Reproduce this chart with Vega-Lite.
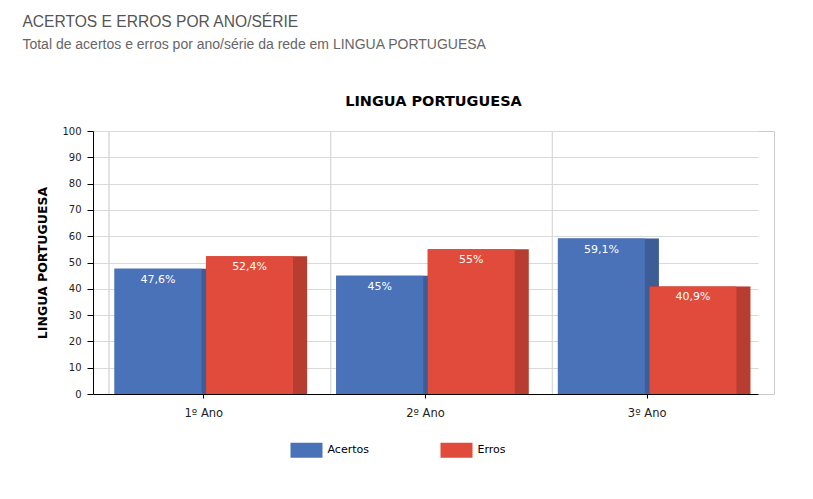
{
  "$schema": "https://vega.github.io/schema/vega-lite/v6.json",
  "background": "#ffffff",
  "padding": {"left": 22, "top": 15, "right": 0, "bottom": 0},
  "title": {
    "text": "ACERTOS E ERROS POR ANO/SÉRIE",
    "subtitle": "Total de acertos e erros por ano/série da rede em LINGUA PORTUGUESA",
    "anchor": "start",
    "frame": "bounds",
    "font": "Liberation Sans",
    "fontSize": 15.6,
    "fontWeight": "normal",
    "color": "#555555",
    "subtitleFont": "Liberation Sans",
    "subtitleFontSize": 14,
    "subtitleColor": "#666666",
    "subtitlePadding": 7,
    "offset": 41,
    "dx": -14
  },
  "datasets": {
    "notas": [
      {"ano": "1º Ano", "serie": "Acertos", "valor": 47.6, "rotulo": "47,6%"},
      {"ano": "1º Ano", "serie": "Erros", "valor": 52.4, "rotulo": "52,4%"},
      {"ano": "2º Ano", "serie": "Acertos", "valor": 45, "rotulo": "45%"},
      {"ano": "2º Ano", "serie": "Erros", "valor": 55, "rotulo": "55%"},
      {"ano": "3º Ano", "serie": "Acertos", "valor": 59.1, "rotulo": "59,1%"},
      {"ano": "3º Ano", "serie": "Erros", "valor": 40.9, "rotulo": "40,9%"}
    ]
  },
  "vconcat": [
    {
      "title": {
        "text": "LINGUA PORTUGUESA",
        "anchor": "middle",
        "frame": "group",
        "font": "DejaVu Sans",
        "fontSize": 14.5,
        "fontWeight": "bold",
        "color": "#000000",
        "offset": 17
      },
      "width": 681,
      "height": 263,
      "data": {"name": "notas"},
      "encoding": {
        "x": {
          "field": "ano",
          "type": "nominal",
          "sort": null,
          "scale": {"range": [0, 665], "paddingInner": 0, "paddingOuter": 0},
          "axis": {
            "title": null,
            "labelAngle": 0,
            "labelFont": "DejaVu Sans",
            "labelFontSize": 11.5,
            "labelColor": "#222222",
            "labelPadding": 9,
            "tickSize": 4,
            "tickColor": "#000000",
            "domainColor": "#000000",
            "grid": false
          }
        },
        "y": {
          "field": "valor",
          "type": "quantitative",
          "scale": {"domain": [0, 100], "nice": false},
          "axis": {
            "title": "LINGUA PORTUGUESA",
            "titleFont": "DejaVu Sans",
            "titleFontSize": 12.5,
            "titleFontWeight": "bold",
            "titleColor": "#000000",
            "titlePadding": 12,
            "values": [0, 10, 20, 30, 40, 50, 60, 70, 80, 90, 100],
            "labelFont": "DejaVu Sans",
            "labelFontSize": 10,
            "labelColor": "#222222",
            "labelPadding": 6,
            "tickSize": 6,
            "tickColor": "#000000",
            "domainColor": "#000000",
            "grid": true,
            "gridColor": "#d9d9d9"
          }
        }
      },
      "resolve": {"scale": {"xOffset": "independent"}},
      "layer": [
        {
          "mark": {"type": "rule", "color": "#d9d9d9", "strokeWidth": 1, "xOffset": 16},
          "encoding": {
            "x": {"field": "ano", "type": "nominal", "sort": null, "bandPosition": 0},
            "y": null
          }
        },
        {
          "mark": {"type": "bar", "width": 101},
          "encoding": {
            "xOffset": {"field": "serie", "type": "nominal", "scale": {"range": [7, 228.67], "paddingInner": 0, "paddingOuter": 0.211}},
            "color": {"field": "serie", "type": "nominal", "scale": {"domain": ["Acertos", "Erros"], "range": ["#4a72b8", "#e04b3b"]}}
          }
        },
        {
          "mark": {"type": "bar", "width": 101, "fill": "#000000", "opacity": 0.18},
          "encoding": {
            "xOffset": {"field": "serie", "type": "nominal", "scale": {"range": [7, 228.67], "paddingInner": 0, "paddingOuter": 0.211}}
          }
        },
        {
          "mark": {"type": "bar", "width": 87},
          "encoding": {
            "xOffset": {"field": "serie", "type": "nominal", "scale": {"paddingInner": 0, "paddingOuter": 0.211}},
            "color": {
              "field": "serie",
              "type": "nominal",
              "scale": {"domain": ["Acertos", "Erros"], "range": ["#4a72b8", "#e04b3b"]},
              "legend": {
                "title": null,
                "orient": "none",
                "legendX": 197.5,
                "legendY": 303,
                "direction": "horizontal",
                "columns": 2,
                "columnPadding": 71,
                "padding": 0,
                "symbolType": "M-1,-0.47H1V0.47H-1Z",
                "symbolSize": 1024,
                "symbolStrokeWidth": 0,
                "symbolOpacity": 1,
                "labelFont": "DejaVu Sans",
                "labelFontSize": 11,
                "labelColor": "#000000",
                "labelOffset": 5,
                "encode": {
                  "symbols": {
                    "update": {
                      "fill": {"signal": "datum.value === 'Acertos' ? '#5b87d0' : '#e85c4a'"},
                      "stroke": {"value": "transparent"}
                    }
                  }
                }
              }
            }
          }
        },
        {
          "mark": {"type": "text", "baseline": "top", "align": "center", "dy": 5, "font": "DejaVu Sans", "fontSize": 11, "fill": "#ffffff"},
          "encoding": {
            "xOffset": {"field": "serie", "type": "nominal", "scale": {"type": "point", "padding": 0.711}},
            "text": {"field": "rotulo", "type": "nominal"}
          }
        }
      ]
    }
  ],
  "config": {
    "view": {"stroke": "#cccccc"},
    "axis": {"domainWidth": 1}
  }
}
